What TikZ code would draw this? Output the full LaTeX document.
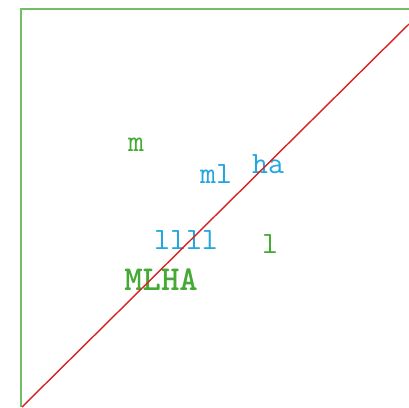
\documentclass[tikz,border=0pt]{standalone}
\usepackage{tikz}

\definecolor{plotgreen}{RGB}{68,170,51}
\definecolor{plotcyan}{RGB}{34,166,224}
\definecolor{plotred}{RGB}{214,34,34}

\tikzset{lbl/.style={font=\ttfamily\fontsize{31}{31}\selectfont, inner sep=0pt},
  biglbl/.style={font=\ttfamily\bfseries\fontsize{35}{35}\selectfont, inner sep=0pt}}

\begin{document}
\begin{tikzpicture}[x=1pt, y=-1pt]
  \useasboundingbox (0,0) rectangle (409,407);
  \draw [plotgreen!75, line width=2pt] (21,407) -- (21,8.5) -- (409,8.5);
  \node [lbl, plotgreen] (m) at (136,144.5) {m};
  \node [lbl, plotcyan] (ml) at (216,174) {ml};
  \node [lbl, plotcyan] (ha) at (268,164) {ha};
  \node [lbl, plotcyan] (llll) at (186,240) {llll};
  \node [lbl, plotgreen] (l) at (270,244) {l};
  \node [biglbl, plotgreen] (mlha) at (161,280) {MLHA};
  % diagonal
  \coordinate (lo) at (22,407);
  \coordinate (hi) at (409,24);
  \draw [plotred, line width=1.4pt] (lo) -- (hi);
\end{tikzpicture}
\end{document}
